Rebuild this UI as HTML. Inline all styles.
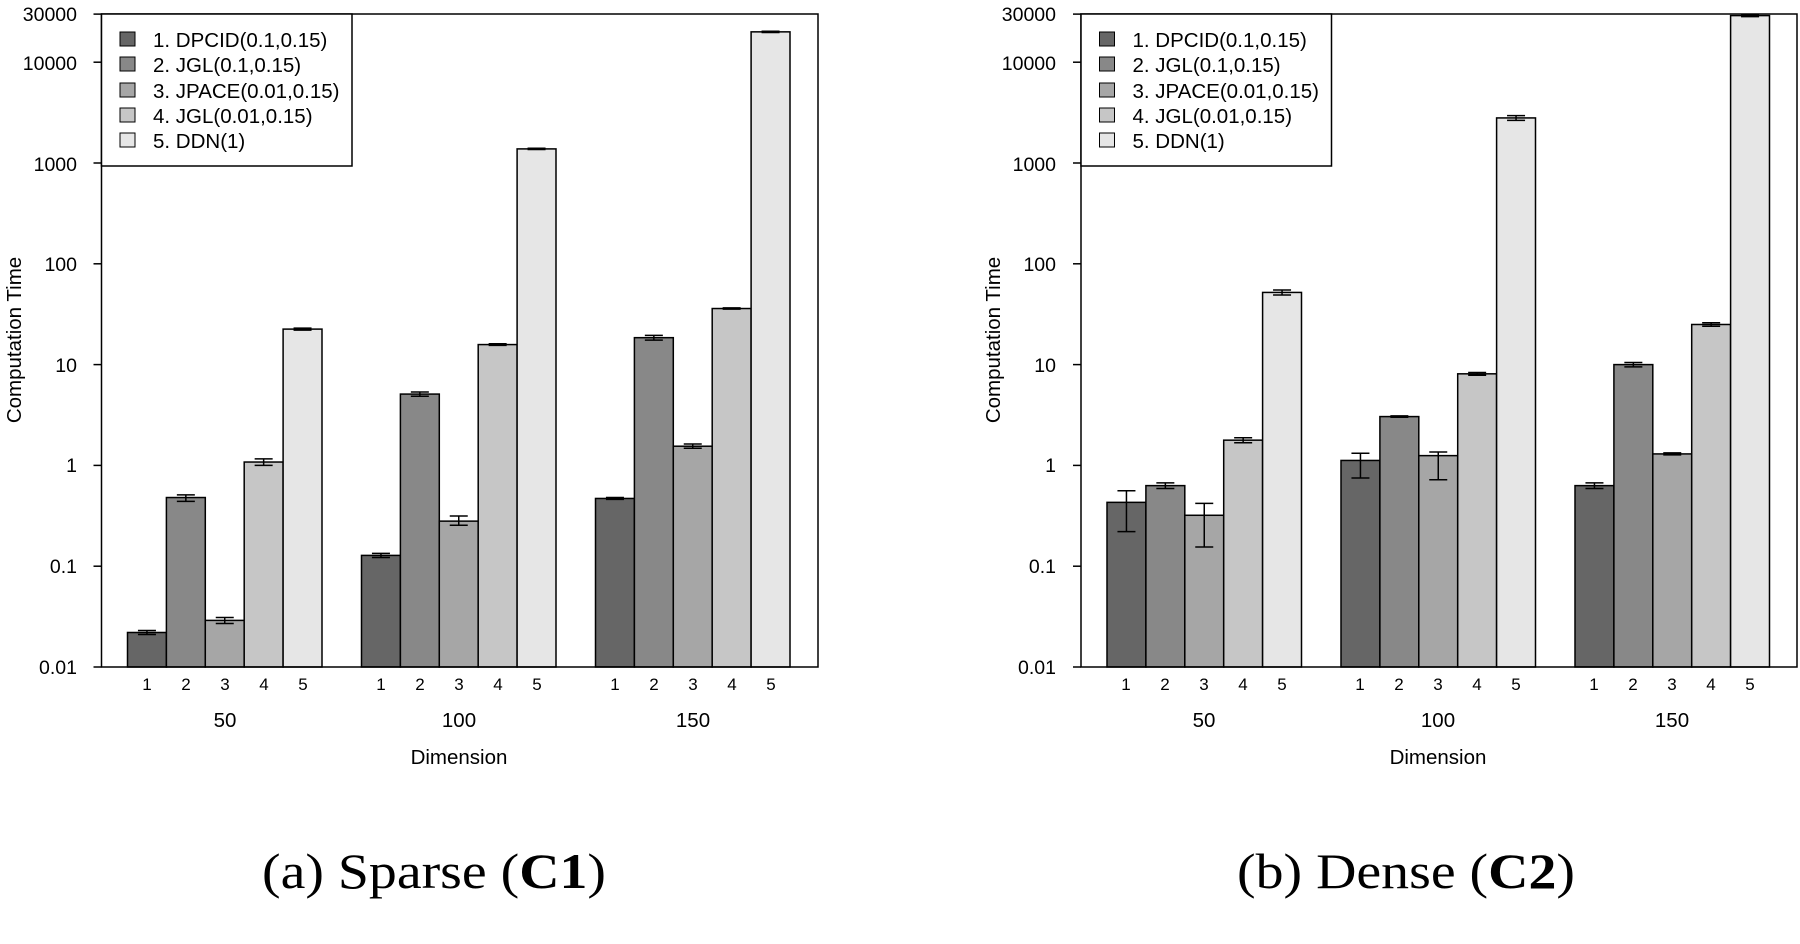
<!DOCTYPE html>
<html><head><meta charset="utf-8"><style>
html,body{margin:0;padding:0;background:#fff;}
svg{display:block;}
text{font-family:"Liberation Sans",sans-serif;fill:#000;}
.cap{font-family:"Liberation Serif",serif;font-size:50px;}
</style></head><body>
<svg id="s" width="1800" height="944" viewBox="0 0 1800 944" xmlns="http://www.w3.org/2000/svg">
<g id="bars"></g>
<!-- left panel -->
<rect x="101.5" y="14" width="716.5" height="653" fill="none" stroke="#000" stroke-width="1.5"/>
<g font-size="19.5" text-anchor="end">
<text x="77" y="674">0.01</text><text x="77" y="573">0.1</text><text x="77" y="472">1</text>
<text x="77" y="372">10</text><text x="77" y="271">100</text><text x="77" y="171">1000</text>
<text x="77" y="70">10000</text><text x="77" y="21">30000</text>
</g>
<text x="0" y="0" font-size="20.5" text-anchor="middle" transform="translate(21,340) rotate(-90)">Computation Time</text>
<g font-size="20.5" text-anchor="middle">
<text x="225" y="727">50</text><text x="459" y="727">100</text><text x="693" y="727">150</text>
<text x="459" y="764">Dimension</text>
</g>
<text class="cap" x="434" y="888" text-anchor="middle" textLength="344" lengthAdjust="spacingAndGlyphs">(a) Sparse (<tspan font-weight="bold">C1</tspan>)</text>
<!-- right panel -->
<rect x="1081" y="14" width="716" height="653" fill="none" stroke="#000" stroke-width="1.5"/>
<g font-size="19.5" text-anchor="end">
<text x="1056" y="674">0.01</text><text x="1056" y="573">0.1</text><text x="1056" y="472">1</text>
<text x="1056" y="372">10</text><text x="1056" y="271">100</text><text x="1056" y="171">1000</text>
<text x="1056" y="70">10000</text><text x="1056" y="21">30000</text>
</g>
<text x="0" y="0" font-size="20.5" text-anchor="middle" transform="translate(1000,340) rotate(-90)">Computation Time</text>
<g font-size="20.5" text-anchor="middle">
<text x="1204" y="727">50</text><text x="1438" y="727">100</text><text x="1672" y="727">150</text>
<text x="1438" y="764">Dimension</text>
</g>
<text class="cap" x="1406" y="888" text-anchor="middle" textLength="338" lengthAdjust="spacingAndGlyphs">(b) Dense (<tspan font-weight="bold">C2</tspan>)</text>
<!-- legends -->
<g>
<rect x="101.5" y="14" width="250.5" height="152" fill="#fff" stroke="#000" stroke-width="1.5"/>
<rect x="120" y="32" width="15" height="14" fill="#666" stroke="#000"/>
<rect x="120" y="57" width="15" height="14" fill="#888" stroke="#000"/>
<rect x="120" y="83" width="15" height="14" fill="#a6a6a6" stroke="#000"/>
<rect x="120" y="108" width="15" height="14" fill="#c6c6c6" stroke="#000"/>
<rect x="120" y="133" width="15" height="14" fill="#e6e6e6" stroke="#000"/>
<g font-size="20.5">
<text x="153" y="47">1. DPCID(0.1,0.15)</text>
<text x="153" y="72">2. JGL(0.1,0.15)</text>
<text x="153" y="98">3. JPACE(0.01,0.15)</text>
<text x="153" y="123">4. JGL(0.01,0.15)</text>
<text x="153" y="148">5. DDN(1)</text>
</g>
</g>
<g transform="translate(979.5,0)">
<rect x="101.5" y="14" width="250.5" height="152" fill="#fff" stroke="#000" stroke-width="1.5"/>
<rect x="120" y="32" width="15" height="14" fill="#666" stroke="#000"/>
<rect x="120" y="57" width="15" height="14" fill="#888" stroke="#000"/>
<rect x="120" y="83" width="15" height="14" fill="#a6a6a6" stroke="#000"/>
<rect x="120" y="108" width="15" height="14" fill="#c6c6c6" stroke="#000"/>
<rect x="120" y="133" width="15" height="14" fill="#e6e6e6" stroke="#000"/>
<g font-size="20.5">
<text x="153" y="47">1. DPCID(0.1,0.15)</text>
<text x="153" y="72">2. JGL(0.1,0.15)</text>
<text x="153" y="98">3. JPACE(0.01,0.15)</text>
<text x="153" y="123">4. JGL(0.01,0.15)</text>
<text x="153" y="148">5. DDN(1)</text>
</g>
</g>
<g font-size="17" text-anchor="middle">
<text x="147" y="690">1</text><text x="186" y="690">2</text><text x="225" y="690">3</text><text x="264" y="690">4</text><text x="303" y="690">5</text>
<text x="381" y="690">1</text><text x="420" y="690">2</text><text x="459" y="690">3</text><text x="498" y="690">4</text><text x="537" y="690">5</text>
<text x="615" y="690">1</text><text x="654" y="690">2</text><text x="693" y="690">3</text><text x="732" y="690">4</text><text x="771" y="690">5</text>
<text x="1126" y="690">1</text><text x="1165" y="690">2</text><text x="1204" y="690">3</text><text x="1243" y="690">4</text><text x="1282" y="690">5</text>
<text x="1360" y="690">1</text><text x="1399" y="690">2</text><text x="1438" y="690">3</text><text x="1477" y="690">4</text><text x="1516" y="690">5</text>
<text x="1594" y="690">1</text><text x="1633" y="690">2</text><text x="1672" y="690">3</text><text x="1711" y="690">4</text><text x="1750" y="690">5</text>
</g>
</svg>
<script>
(function(){
var NS="http://www.w3.org/2000/svg";
var g=document.getElementById("bars");
function Y(v){return 667-(Math.log10(v)+2)*100.8;}
var cols=["#666","#888","#a6a6a6","#c6c6c6","#e6e6e6"];
var w=38.9;
function el(t,a){var e=document.createElementNS(NS,t);for(var k in a)e.setAttribute(k,a[k]);g.appendChild(e);}
function panel(x0,data){
 for(var gi=0;gi<3;gi++){
  for(var b=0;b<5;b++){
   var d=data[gi][b];var x=x0+gi*234+b*w;var y=Y(d[0]);
   el("rect",{x:x,y:y,width:w,height:667-y,fill:cols[b],stroke:"#000","stroke-width":1.5});
   var cx=x+w/2,lo=Y(d[1]),hi=Y(d[2]);
   el("line",{x1:cx,x2:cx,y1:lo,y2:hi,stroke:"#000","stroke-width":1.5});
   el("line",{x1:cx-9,x2:cx+9,y1:lo,y2:lo,stroke:"#000","stroke-width":1.5});
   el("line",{x1:cx-9,x2:cx+9,y1:hi,y2:hi,stroke:"#000","stroke-width":1.5});
  }
 }
 var ax=x0-26;
 [0.01,0.1,1,10,100,1000,10000,30000].forEach(function(v){el("line",{x1:ax-8,x2:ax,y1:Y(v),y2:Y(v),stroke:"#000","stroke-width":1.5});});
}
panel(127.5,[
 [[0.022,0.021,0.023],[0.48,0.44,0.51],[0.029,0.027,0.031],[1.08,1.0,1.16],[22.5,22,23]],
 [[0.128,0.122,0.134],[5.1,4.85,5.35],[0.28,0.255,0.315],[15.8,15.5,16.1],[1380,1360,1400]],
 [[0.47,0.46,0.48],[18.5,17.5,19.5],[1.55,1.48,1.63],[36,35.5,36.5],[20000,19700,20300]]
]);
panel(1107,[
 [[0.43,0.22,0.56],[0.63,0.59,0.67],[0.32,0.155,0.42],[1.78,1.68,1.88],[52,49,55]],
 [[1.12,0.75,1.32],[3.05,3.0,3.1],[1.25,0.72,1.36],[8.1,7.85,8.35],[2800,2650,2950]],
 [[0.63,0.59,0.67],[10,9.5,10.5],[1.3,1.27,1.33],[25,24,26],[29000,28300,29700]]
]);
})();
</script>
</body></html>
